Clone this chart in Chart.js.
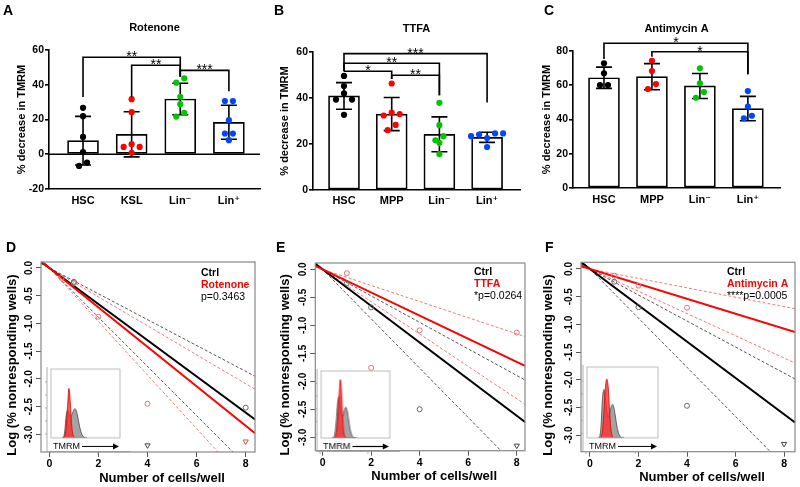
<!DOCTYPE html>
<html>
<head>
<meta charset="utf-8">
<script src="https://cdn.jsdelivr.net/npm/chart.js"></script>
<style>
html, body { margin: 0; padding: 0; background: #fff; }
#fig { position: relative; width: 800px; height: 487px; overflow: hidden; background: #fff; }
#fig canvas { position: absolute; }
</style>
</head>
<body>
<div id="fig"></div>
<script>
// ---- A-C : % decrease in TMRM (mean, SD and single mice) ----
var catsA = ['HSC', 'KSL', 'Lin⁻', 'Lin⁺']
var catsBC = ['HSC', 'MPP', 'Lin⁻', 'Lin⁺']
var groupColors = ['#000000', '#ff0000', '#00c400', '#0046ff']

var meanA = [7.8, 11.5, 31.8, 18.4]
var sdA = [14.0, 13.0, 9.1, 9.8]
var ptsA = [
    [26.7, 21.9, 10.0, 1.3, -4.8, -6.7],
    [31.7, 24.2, 5.8, 4.2, 4.2, 0.8],
    [43.7, 41.2, 33.1, 28.8, 23.8, 21.7],
    [30.6, 30.6, 19.6, 11.9, 11.9, 8.1]
]
var meanB = [40.9, 33.0, 24.2, 22.9]
var sdB = [5.8, 7.2, 7.6, 2.2]
var ptsB = [
    [49.6, 45.2, 42.0, 39.3, 39.3, 32.7],
    [46.3, 33.7, 33.0, 32.4, 28.3, 26.0],
    [37.9, 28.2, 23.4, 21.6, 20.5, 15.6],
    [24.6, 24.6, 24.1, 23.4, 22.6, 18.7]
]
var meanC = [64.4, 65.0, 59.6, 46.4]
var sdC = [6.2, 7.6, 7.3, 7.1]
var ptsC = [
    [72.8, 67.0, 60.1, 60.1],
    [74.3, 68.3, 60.7, 57.8],
    [69.9, 61.1, 56.0, 52.7],
    [56.6, 47.5, 42.2, 40.7]
]
var yTicksA = [-20, 0, 20, 40, 60]
var yTicksB = [0, 20, 40, 60]
var yTicksC = [0, 20, 40, 60, 80]
// significance brackets: [from group, to group, height, leg end at from, leg end at to, label]
var sigA = [[0, 2, 55.8, 33, 44.6, '**'], [1, 2, 51.2, 33, 44.6, '**'], [2, 3, 48.3, 44.6, 36.3, '***']]
var sigB = [[0, 3, 59.3, 51.6, 38, '***'], [0, 2, 55.1, 51.6, 41.2, '**'], [0, 1, 51.6, 51.6, 48.3, '*'], [1, 2, 49.9, 48.3, 41.2, '**']]
var sigC = [[0, 3, 84.5, 75.3, 66.4, '*'], [1, 3, 79.6, 76.7, 66.4, '*']]

// ---- D-F : limiting dilution, log fraction of nonresponding wells ----
var xTicksLD = [0, 2, 4, 6, 8]
var yTicksLD = [0, -0.5, -1, -1.5, -2, -2.5, -3]
// slopes of the fitted lines: [fit, lower limit, upper limit]
var ctrlD = [-0.326, -0.444, -0.233]
var trtD = [-0.356, -0.483, -0.261]
var ctrlE = [-0.327, -0.441, -0.237]
var trtE = [-0.207, -0.289, -0.144]
var ctrlF = [-0.328, -0.444, -0.235]
var trtF = [-0.135, -0.201, -0.085]
// observed points (cells/well, log fraction); "zero" = no negative wells, drawn as triangles
var ctrlPtsD = [[1, -0.25], [8, -2.52]]
var ctrlZeroD = [[4, -3.2]]
var trtPtsD = [[0.5, -0.18], [1, -0.27], [2, -0.88], [4, -2.45]]
var trtZeroD = [[8, -3.13]]
var ctrlPtsE = [[1, -0.25], [2, -0.68], [4, -2.5]]
var ctrlZeroE = [[8, -3.15]]
var trtPtsE = [[1, -0.07], [2, -1.76], [4, -1.09], [8, -1.13]]
var trtZeroE = []
var ctrlPtsF = [[1, -0.23], [2, -0.69], [4, -2.47]]
var ctrlZeroF = [[8, -3.16]]
var trtPtsF = [[1, -0.12], [2, -0.3], [4, -0.7]]
var trtZeroF = []

// TMRM histograms in the insets (relative counts)
var tmrmBins = [16, 18, 20, 22, 24, 26, 28, 30, 32, 34, 36, 38, 40, 42, 44, 46, 48, 50, 52]
var grayD = [0, 0.01, 0.1, 0.32, 0.40, 0.36, 0.32, 0.33, 0.38, 0.42, 0.41, 0.34, 0.24, 0.14, 0.07, 0.03, 0.01, 0, 0]
var redD = [0, 0, 0.03, 0.15, 0.45, 0.72, 0.5, 0.18, 0.04, 0.01, 0, 0, 0, 0, 0, 0, 0, 0, 0]
var grayE = [0, 0.01, 0.06, 0.25, 0.52, 0.62, 0.5, 0.34, 0.33, 0.42, 0.46, 0.4, 0.27, 0.14, 0.06, 0.02, 0.005, 0, 0]
var redE = [0, 0, 0, 0.05, 0.25, 0.6, 0.87, 0.62, 0.2, 0.04, 0.01, 0, 0, 0, 0, 0, 0, 0, 0]
var grayF = [0, 0.02, 0.2, 0.58, 0.68, 0.55, 0.36, 0.3, 0.35, 0.44, 0.47, 0.42, 0.3, 0.17, 0.08, 0.03, 0.01, 0, 0]
var redF = [0, 0, 0.02, 0.12, 0.4, 0.72, 0.83, 0.7, 0.35, 0.1, 0.02, 0, 0, 0, 0, 0, 0, 0, 0]

var FONT = '"Liberation Sans", Arial, "DejaVu Sans", sans-serif'
Chart.defaults.font.family = FONT
Chart.defaults.color = '#000'

function addCanvas(left, top, w, h) {
    var c = document.createElement('canvas')
    c.width = w
    c.height = h
    c.style.left = left + 'px'
    c.style.top = top + 'px'
    c.style.width = w + 'px'
    c.style.height = h + 'px'
    document.getElementById('fig').appendChild(c)
    return c
}

// bars, error bars, brackets and titles of the Prism style panels
var prism = {
    id: 'prism',
    beforeDatasetsDraw: function (chart, args, o) {
        if (!o.zero) return
        var ctx = chart.ctx, a = chart.chartArea, y0 = chart.scales.y.getPixelForValue(0)
        ctx.save()
        ctx.strokeStyle = '#000'
        ctx.lineWidth = 1.6
        ctx.beginPath()
        ctx.moveTo(a.left, y0)
        ctx.lineTo(a.right, y0)
        ctx.stroke()
        ctx.restore()
    },
    afterDatasetDraw: function (chart, args, o) {
        if (args.index !== 0) return
        var ctx = chart.ctx, x = chart.scales.x, y = chart.scales.y
        ctx.save()
        ctx.strokeStyle = '#000'
        ctx.lineWidth = 1.6
        o.means.forEach(function (m, i) {
            var px = x.getPixelForValue(i)
            var top = y.getPixelForValue(m + o.sds[i])
            var bot = y.getPixelForValue(m - o.sds[i])
            ctx.beginPath()
            ctx.moveTo(px, top); ctx.lineTo(px, bot)
            ctx.moveTo(px - 8, top); ctx.lineTo(px + 8, top)
            ctx.moveTo(px - 8, bot); ctx.lineTo(px + 8, bot)
            ctx.stroke()
        })
        ctx.restore()
    },
    afterDraw: function (chart, args, o) {
        var ctx = chart.ctx, x = chart.scales.x, y = chart.scales.y, a = chart.chartArea
        ctx.save()
        ctx.strokeStyle = '#000'
        ctx.fillStyle = '#000'
        ctx.lineWidth = 1.6
        ctx.textAlign = 'center'
        ctx.textBaseline = 'alphabetic'
        ctx.font = '14px ' + FONT
        o.sig.forEach(function (s) {
            var xa = x.getPixelForValue(s[0]), xb = x.getPixelForValue(s[1]), yh = y.getPixelForValue(s[2])
            ctx.beginPath()
            ctx.moveTo(xa, y.getPixelForValue(s[3]))
            ctx.lineTo(xa, yh)
            ctx.lineTo(xb, yh)
            ctx.lineTo(xb, y.getPixelForValue(s[4]))
            ctx.stroke()
            ctx.fillText(s[5], (xa + xb) / 2, yh + 4)
        })
        ctx.textBaseline = 'middle'
        ctx.font = 'bold 11px ' + FONT
        ctx.fillText(o.title, (a.left + a.right) / 2, o.titleY)
        ctx.textAlign = 'left'
        ctx.font = 'bold 14px ' + FONT
        ctx.fillText(o.letter, o.letterX, 11)
        ctx.restore()
    }
}

function swarm(vals, ppu) {
    var gap = 6.5, step = 8
    var order = vals.map(function (v, k) { return k }).sort(function (p, q) { return vals[q] - vals[p] })
    var offs = vals.map(function () { return 0 })
    var k = 0
    while (k < order.length) {
        var bin = [order[k]]
        var j = k + 1
        while (j < order.length && (vals[order[k]] - vals[order[j]]) * ppu < gap) bin.push(order[j++])
        k = j
        var n = bin.length, rest = bin.slice(), slots = []
        for (var s = 0; s < n; s++) slots.push((s - (n - 1) / 2) * step)
        if (n % 2 === 1 && n > 1) {
            var mean = bin.reduce(function (t, q) { return t + vals[q] }, 0) / n
            var far = bin[0]
            bin.forEach(function (q) { if (Math.abs(vals[q] - mean) > Math.abs(vals[far] - mean)) far = q })
            rest = bin.filter(function (q) { return q !== far })
            slots.splice((n - 1) / 2, 1)
        }
        rest.sort(function (p, q) { return vals[p] - vals[q] })
        rest.forEach(function (q, t) { offs[q] = slots[t] })
    }
    return offs
}

function barPanel(g, cats, means, sds, pts, yTicks, sig) {
    var cv = addCanvas(g.left, 0, g.w, 230)
    var datasets = [{
        type: 'bar',
        data: means.map(function (m, i) { return { x: i, y: m } }),
        backgroundColor: '#fff', borderColor: '#000', borderWidth: 1.7,
        borderSkipped: false, barThickness: 31, order: 1
    }]
    pts.forEach(function (vals, i) {
        datasets.push({
            type: 'scatter',
            data: vals.map(function (v) { return { x: i, y: v } }),
            backgroundColor: groupColors[i], borderColor: groupColors[i],
            pointRadius: 3.1, borderWidth: 0, order: 0
        })
    })
    var chart = new Chart(cv, {
        type: 'bar',
        data: { datasets: datasets },
        options: {
            responsive: false, animation: false, devicePixelRatio: 1, events: [],
            layout: { padding: { top: g.padTop, right: g.padRight, left: 0, bottom: 0 } },
            plugins: {
                legend: { display: false }, tooltip: { enabled: false },
                prism: { means: means, sds: sds, sig: sig, zero: g.zero, title: g.title, titleY: g.titleY, letter: g.letter, letterX: g.letterX }
            },
            scales: {
                x: {
                    type: 'linear', min: g.xMin, max: g.xMax, offset: false,
                    afterBuildTicks: function (s) { s.ticks = cats.map(function (c, i) { return { value: i } }) },
                    afterFit: function (s) { s.height = g.xH },
                    grid: { display: false, drawTicks: false, offset: false },
                    border: { display: true, color: '#000', width: 1.6 },
                    ticks: {
                        callback: function (v) { return cats[v] }, autoSkip: false, maxRotation: 0,
                        padding: g.xPad, color: '#000', font: { weight: 'bold', size: 11 }
                    }
                },
                y: {
                    type: 'linear', min: yTicks[0], max: yTicks[yTicks.length - 1],
                    afterBuildTicks: function (s) { s.ticks = yTicks.map(function (v) { return { value: v } }) },
                    afterFit: function (s) { s.width = g.yW },
                    grid: { display: true, drawOnChartArea: false, drawTicks: true, tickLength: 4, color: '#000', lineWidth: 1.6 },
                    border: { display: true, color: '#000', width: 1.6 },
                    ticks: { color: '#000', padding: 1, font: { weight: 'bold', size: 10.5 } },
                    title: {
                        display: true, text: '% decrease in TMRM', color: '#000',
                        font: { weight: 'bold', size: 11 }, padding: { top: g.yTitlePad, bottom: 0 }
                    }
                }
            }
        },
        plugins: [prism]
    })
    // spread the single mice sideways like the Prism scatter
    var y = chart.scales.y, x = chart.scales.x
    var ppu = Math.abs(y.getPixelForValue(1) - y.getPixelForValue(0))
    var pxCat = x.getPixelForValue(1) - x.getPixelForValue(0)
    pts.forEach(function (vals, i) {
        var offs = swarm(vals, ppu)
        chart.data.datasets[i + 1].data = vals.map(function (v, k) { return { x: i + offs[k] / pxCat, y: v } })
    })
    chart.update('none')
}

// box, rotated tick labels, legend text of the R style panels
var rplot = {
    id: 'rplot',
    afterDraw: function (chart, args, o) {
        var ctx = chart.ctx, a = chart.chartArea, y = chart.scales.y
        ctx.save()
        ctx.strokeStyle = '#888'
        ctx.lineWidth = 1.2
        ctx.strokeRect(a.left, a.top, a.right - a.left, a.bottom - a.top)
        ctx.fillStyle = '#000'
        ctx.textAlign = 'center'
        ctx.textBaseline = 'middle'
        ctx.font = 'bold 10px ' + FONT
        yTicksLD.forEach(function (v) {
            ctx.save()
            ctx.translate(a.left - 12, y.getPixelForValue(v))
            ctx.rotate(-Math.PI / 2)
            ctx.fillText(v.toFixed(1), 0, 0)
            ctx.restore()
        })
        ctx.font = 'bold 13px ' + FONT
        ctx.fillText('Number of cells/well', (a.left + a.right) / 2 + 14, a.bottom + 26)
        ctx.save()
        ctx.translate(o.yTitleX, (a.top + a.bottom) / 2 + 8)
        ctx.rotate(-Math.PI / 2)
        ctx.fillText('Log (% nonresponding wells)', 0, 0)
        ctx.restore()
        ctx.textAlign = 'left'
        o.legend.forEach(function (l, i) {
            ctx.font = (l[2] ? 'bold ' : '') + '10.5px ' + FONT
            ctx.fillStyle = l[1]
            ctx.fillText(l[0], a.right + o.legX, a.top + o.legY + i * 12)
        })
        ctx.fillStyle = '#000'
        ctx.font = 'bold 14px ' + FONT
        ctx.fillText(o.letter, o.letterX, 18)
        ctx.restore()
    }
}

function ldPanel(g, ctrl, trt, ctrlPts, ctrlZero, trtPts, trtZero) {
    var cv = addCanvas(g.left, 230, g.w, 257)
    function fit(s, color, width, dash, order) {
        return {
            type: 'line', data: [{ x: g.xMin, y: s * g.xMin }, { x: g.xMax, y: s * g.xMax }],
            borderColor: color, borderWidth: width, borderDash: dash, pointRadius: 0, fill: false, order: order
        }
    }
    function marks(list, color, style) {
        return {
            type: 'scatter', data: list.map(function (p) { return { x: p[0], y: p[1] } }),
            pointStyle: style, rotation: style === 'triangle' ? 180 : 0,
            pointRadius: style === 'triangle' ? 3 : 2.5, borderWidth: 1,
            borderColor: color, backgroundColor: 'rgba(0,0,0,0)', order: 0
        }
    }
    var datasets = [
        marks(ctrlPts, '#666', 'circle'), marks(ctrlZero, '#444', 'triangle'),
        marks(trtPts, '#e87070', 'circle'), marks(trtZero, '#e05050', 'triangle'),
        fit(trt[0], '#ff0000', 2, [], 1), fit(ctrl[0], '#000', 2, [], 2),
        fit(ctrl[1], '#555', 1, [3, 2], 3), fit(ctrl[2], '#555', 1, [3, 2], 3),
        fit(trt[1], '#f07878', 1, [3, 2], 3), fit(trt[2], '#f07878', 1, [3, 2], 3)
    ]
    new Chart(cv, {
        type: 'scatter',
        data: { datasets: datasets },
        options: {
            responsive: false, animation: false, devicePixelRatio: 1, events: [],
            layout: { padding: { top: g.padTop, right: g.padRight, left: 0, bottom: 0 } },
            plugins: {
                legend: { display: false }, tooltip: { enabled: false },
                rplot: { legend: g.legend, legX: g.legX, legY: g.legY, letter: g.letter, letterX: g.letterX, yTitleX: g.yTitleX }
            },
            scales: {
                x: {
                    type: 'linear', min: g.xMin, max: g.xMax,
                    afterBuildTicks: function (s) { s.ticks = xTicksLD.map(function (v) { return { value: v } }) },
                    afterFit: function (s) { s.height = g.xH },
                    grid: { display: true, drawOnChartArea: false, drawTicks: true, tickLength: 5, color: '#555', lineWidth: 1 },
                    border: { display: false },
                    ticks: { color: '#000', padding: 1, maxRotation: 0, autoSkip: false, font: { weight: 'bold', size: 10.5 } }
                },
                y: {
                    type: 'linear', min: g.yMin, max: g.yMax,
                    afterBuildTicks: function (s) { s.ticks = yTicksLD.map(function (v) { return { value: v } }) },
                    afterFit: function (s) { s.width = g.yW },
                    grid: { display: true, drawOnChartArea: false, drawTicks: true, tickLength: 5, color: '#555', lineWidth: 1 },
                    border: { display: false },
                    ticks: { display: false }
                }
            }
        },
        plugins: [rplot]
    })
}

// flow cytometry inset
var insetFrame = {
    id: 'insetFrame',
    beforeDatasetsDraw: function (chart) {
        var a = chart.chartArea, ctx = chart.ctx
        ctx.save()
        ctx.fillStyle = '#fff'
        ctx.fillRect(a.left, a.top, a.right - a.left, a.bottom - a.top)
        ctx.restore()
    },
    afterDraw: function (chart) {
        var a = chart.chartArea, ctx = chart.ctx
        ctx.save()
        ctx.strokeStyle = '#aaa'
        ctx.lineWidth = 0.8
        ctx.strokeRect(a.left, a.top, a.right - a.left, a.bottom - a.top)
        ctx.strokeStyle = '#999'
        ctx.beginPath()
        ctx.moveTo(a.left - 4, a.top - 2)
        ctx.lineTo(a.left - 4, a.bottom + 13.5)
        ctx.lineTo(a.right + 10, a.bottom + 13.5)
        for (var i = 1; i <= 5; i++) {
            var ty = a.top + (a.bottom - a.top) * i / 5.3
            ctx.moveTo(a.left - 4, ty)
            ctx.lineTo(a.left - 6, ty)
        }
        ctx.moveTo(a.left - 1, a.bottom + 13.5); ctx.lineTo(a.left - 1, a.bottom + 16)
        ctx.moveTo(a.left + (a.right - a.left) * 0.68, a.bottom + 13.5)
        ctx.lineTo(a.left + (a.right - a.left) * 0.68, a.bottom + 16)
        ctx.stroke()
        ctx.fillStyle = '#000'
        ctx.font = '9px ' + FONT
        ctx.textAlign = 'left'
        ctx.textBaseline = 'middle'
        var ty2 = a.bottom + 8.5
        ctx.fillText('TMRM', a.left + 2, ty2)
        ctx.strokeStyle = '#000'
        ctx.lineWidth = 1.2
        ctx.beginPath()
        ctx.moveTo(a.left + 31, ty2)
        ctx.lineTo(a.right - 5, ty2)
        ctx.stroke()
        ctx.beginPath()
        ctx.moveTo(a.right - 1, ty2)
        ctx.lineTo(a.right - 7, ty2 - 3)
        ctx.lineTo(a.right - 7, ty2 + 3)
        ctx.closePath()
        ctx.fill()
        ctx.restore()
    }
}

function inset(box, gray, red) {
    var pl = 8, pt = 4, pr = 12, pb = 17
    var cv = addCanvas(box[0] - pl, box[1] - pt, box[2] - box[0] + pl + pr, box[3] - box[1] + pt + pb)
    function hist(vals, fillC, lineC) {
        return {
            data: tmrmBins.map(function (b, k) { return { x: b, y: vals[k] } }),
            backgroundColor: fillC, borderColor: lineC, borderWidth: 0.8,
            fill: 'origin', pointRadius: 0, tension: 0.4, cubicInterpolationMode: 'monotone'
        }
    }
    new Chart(cv, {
        type: 'line',
        data: { datasets: [hist(red, 'rgba(255,45,45,0.8)', '#e00000'), hist(gray, '#a4a4a4', '#444')] },
        options: {
            responsive: false, animation: false, devicePixelRatio: 1, events: [],
            layout: { padding: { left: pl, top: pt, right: pr, bottom: pb } },
            plugins: { legend: { display: false }, tooltip: { enabled: false } },
            scales: {
                x: { type: 'linear', min: 0, max: 100, display: false },
                y: { min: 0, max: 1, display: false }
            }
        },
        plugins: [insetFrame]
    })
}

barPanel({ left: 0, w: 268, padTop: 50, padRight: 8, yW: 49, xH: 41, xMin: -0.70, xMax: 3.64, yTitlePad: 15.4, xPad: 5,
    zero: true, title: 'Rotenone', titleY: 28, letter: 'A', letterX: 3 }, catsA, meanA, sdA, ptsA, yTicksA, sigA)
barPanel({ left: 268, w: 262, padTop: 52, padRight: 10, yW: 45, xH: 40, xMin: -0.65, xMax: 3.69, yTitlePad: 10.4, xPad: 4,
    zero: false, title: 'TTFA', titleY: 29, letter: 'B', letterX: 6 }, catsBC, meanB, sdB, ptsB, yTicksB, sigB)
barPanel({ left: 530, w: 270, padTop: 51, padRight: 20, yW: 43, xH: 42, xMin: -0.646, xMax: 3.67, yTitlePad: 10, xPad: 5,
    zero: false, title: 'Antimycin A', titleY: 29, letter: 'C', letterX: 14 }, catsBC, meanC, sdC, ptsC, yTicksC, sigC)

ldPanel({ left: 0, w: 262, padTop: 32, padRight: 7, yW: 41, xH: 35, xMin: -0.34, xMax: 8.38, yMin: -3.32, yMax: 0.108,
    legX: -54, legY: 11, yTitleX: 12, letter: 'D', letterX: 6,
    legend: [['Ctrl', '#000', true], ['Rotenone', '#ff0000', true], ['p=0.3463', '#000', false]] },
    ctrlD, trtD, ctrlPtsD, ctrlZeroD, trtPtsD, trtZeroD)
ldPanel({ left: 268, w: 262, padTop: 33, padRight: 2.3, yW: 47.3, xH: 36.3, xMin: -0.30, xMax: 8.34, yMin: -3.24, yMax: 0.113,
    legX: -51, legY: 9.5, yTitleX: 17, letter: 'E', letterX: 8,
    legend: [['Ctrl', '#000', true], ['TTFA', '#ff0000', true], ['*p=0.0264', '#000', false]] },
    ctrlE, trtE, ctrlPtsE, ctrlZeroE, trtPtsE, trtZeroE)
ldPanel({ left: 530, w: 270, padTop: 32.3, padRight: 3, yW: 51, xH: 35.3, xMin: -0.37, xMax: 8.45, yMin: -3.30, yMax: 0.121,
    legX: -68, legY: 9.5, yTitleX: 18, letter: 'F', letterX: 15,
    legend: [['Ctrl', '#000', true], ['Antimycin A', '#ff0000', true], ['****p=0.0005', '#000', false]] },
    ctrlF, trtF, ctrlPtsF, ctrlZeroF, trtPtsF, trtZeroF)

inset([51, 369, 120, 437.7], grayD, redD)
inset([321.3, 370.7, 390, 437.7], grayE, redE)
inset([586.7, 367.3, 657.7, 437.7], grayF, redF)
</script>
</body>
</html>
